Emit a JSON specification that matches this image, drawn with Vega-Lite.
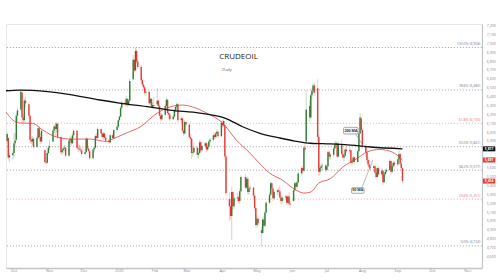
{
"$schema": "https://vega.github.io/schema/vega-lite/v6.json",
"width": 476, "height": 244,
"autosize": {"type": "none"},
"padding": {"left": 6, "top": 24, "right": 18, "bottom": 12},
"background": "white",
"config": {"view": {"stroke": "#e8e8e8"}, "font": "Open Sans"},
"datasets": {
"candles": [
{"d":"2024-09-25","o":5905,"h":6005,"l":5880,"c":5985},
{"d":"2024-09-26","o":5940,"h":5950,"l":5700,"c":5720},
{"d":"2024-09-27","o":5720,"h":5775,"l":5668,"c":5745},
{"d":"2024-09-30","o":5745,"h":5800,"l":5690,"c":5770},
{"d":"2024-10-01","o":5770,"h":6000,"l":5720,"c":5880},
{"d":"2024-10-02","o":5880,"h":5990,"l":5840,"c":5910},
{"d":"2024-10-03","o":5920,"h":6220,"l":5900,"c":6190},
{"d":"2024-10-04","o":6190,"h":6280,"l":6120,"c":6250},
{"d":"2024-10-07","o":6260,"h":6485,"l":6240,"c":6460},
{"d":"2024-10-08","o":6450,"h":6460,"l":6120,"c":6170},
{"d":"2024-10-09","o":6170,"h":6210,"l":6080,"c":6140},
{"d":"2024-10-10","o":6140,"h":6390,"l":6120,"c":6360},
{"d":"2024-10-11","o":6360,"h":6400,"l":6280,"c":6330},
{"d":"2024-10-14","o":6320,"h":6340,"l":6150,"c":6190},
{"d":"2024-10-15","o":6190,"h":6200,"l":5880,"c":5920},
{"d":"2024-10-16","o":5920,"h":5960,"l":5870,"c":5900},
{"d":"2024-10-17","o":5900,"h":5960,"l":5860,"c":5930},
{"d":"2024-10-18","o":5930,"h":5950,"l":5820,"c":5840},
{"d":"2024-10-21","o":5840,"h":5960,"l":5830,"c":5940},
{"d":"2024-10-22","o":5940,"h":6080,"l":5920,"c":6050},
{"d":"2024-10-23","o":6050,"h":6070,"l":5930,"c":5950},
{"d":"2024-10-24","o":5950,"h":5990,"l":5870,"c":5900},
{"d":"2024-10-25","o":5900,"h":6040,"l":5880,"c":6020},
{"d":"2024-10-28","o":5800,"h":5820,"l":5650,"c":5670},
{"d":"2024-10-29","o":5670,"h":5720,"l":5640,"c":5660},
{"d":"2024-10-30","o":5660,"h":5790,"l":5650,"c":5770},
{"d":"2024-10-31","o":5770,"h":5860,"l":5750,"c":5830},
{"d":"2024-11-01","o":5830,"h":5920,"l":5800,"c":5850},
{"d":"2024-11-04","o":5900,"h":6040,"l":5890,"c":6020},
{"d":"2024-11-05","o":6020,"h":6090,"l":5990,"c":6070},
{"d":"2024-11-06","o":6070,"h":6110,"l":5950,"c":6040},
{"d":"2024-11-07","o":6040,"h":6120,"l":6000,"c":6100},
{"d":"2024-11-08","o":6100,"h":6110,"l":5930,"c":5950},
{"d":"2024-11-11","o":5950,"h":5960,"l":5760,"c":5780},
{"d":"2024-11-12","o":5780,"h":5830,"l":5740,"c":5800},
{"d":"2024-11-13","o":5800,"h":5850,"l":5770,"c":5820},
{"d":"2024-11-14","o":5820,"h":5860,"l":5790,"c":5830},
{"d":"2024-11-15","o":5830,"h":5840,"l":5720,"c":5740},
{"d":"2024-11-18","o":5740,"h":5930,"l":5730,"c":5910},
{"d":"2024-11-19","o":5910,"h":5960,"l":5860,"c":5930},
{"d":"2024-11-20","o":5930,"h":5950,"l":5850,"c":5880},
{"d":"2024-11-21","o":5880,"h":5990,"l":5870,"c":5970},
{"d":"2024-11-22","o":5970,"h":6040,"l":5940,"c":6020},
{"d":"2024-11-25","o":6020,"h":6030,"l":5810,"c":5830},
{"d":"2024-11-26","o":5830,"h":5870,"l":5780,"c":5820},
{"d":"2024-11-27","o":5820,"h":5860,"l":5790,"c":5810},
{"d":"2024-11-28","o":5810,"h":5850,"l":5780,"c":5800},
{"d":"2024-11-29","o":5800,"h":5830,"l":5730,"c":5760},
{"d":"2024-12-02","o":5760,"h":5820,"l":5740,"c":5780},
{"d":"2024-12-03","o":5780,"h":5950,"l":5770,"c":5930},
{"d":"2024-12-04","o":5930,"h":5940,"l":5800,"c":5820},
{"d":"2024-12-05","o":5820,"h":5840,"l":5770,"c":5790},
{"d":"2024-12-06","o":5790,"h":5800,"l":5690,"c":5710},
{"d":"2024-12-09","o":5710,"h":5830,"l":5700,"c":5810},
{"d":"2024-12-10","o":5810,"h":5850,"l":5780,"c":5830},
{"d":"2024-12-11","o":5830,"h":5980,"l":5820,"c":5960},
{"d":"2024-12-12","o":5960,"h":5990,"l":5920,"c":5940},
{"d":"2024-12-13","o":5940,"h":6060,"l":5930,"c":6040},
{"d":"2024-12-16","o":6040,"h":6050,"l":5980,"c":5990},
{"d":"2024-12-17","o":5990,"h":6000,"l":5930,"c":5950},
{"d":"2024-12-18","o":5950,"h":6010,"l":5920,"c":5990},
{"d":"2024-12-19","o":5990,"h":6000,"l":5920,"c":5940},
{"d":"2024-12-20","o":5940,"h":5960,"l":5880,"c":5910},
{"d":"2024-12-23","o":5910,"h":5930,"l":5870,"c":5890},
{"d":"2024-12-24","o":5890,"h":5980,"l":5880,"c":5970},
{"d":"2024-12-26","o":5970,"h":5990,"l":5920,"c":5940},
{"d":"2024-12-27","o":5940,"h":6040,"l":5930,"c":6030},
{"d":"2024-12-30","o":6030,"h":6090,"l":6010,"c":6070},
{"d":"2024-12-31","o":6070,"h":6150,"l":6050,"c":6140},
{"d":"2025-01-01","o":6140,"h":6190,"l":6120,"c":6180},
{"d":"2025-01-02","o":6180,"h":6300,"l":6170,"c":6280},
{"d":"2025-01-03","o":6280,"h":6360,"l":6260,"c":6340},
{"d":"2025-01-06","o":6340,"h":6380,"l":6290,"c":6320},
{"d":"2025-01-07","o":6320,"h":6410,"l":6300,"c":6380},
{"d":"2025-01-08","o":6380,"h":6390,"l":6290,"c":6310},
{"d":"2025-01-09","o":6310,"h":6380,"l":6300,"c":6360},
{"d":"2025-01-10","o":6360,"h":6600,"l":6350,"c":6580},
{"d":"2025-01-13","o":6600,"h":6870,"l":6590,"c":6820},
{"d":"2025-01-14","o":6820,"h":6830,"l":6680,"c":6700},
{"d":"2025-01-15","o":6700,"h":6958,"l":6690,"c":6920},
{"d":"2025-01-16","o":6920,"h":6940,"l":6780,"c":6800},
{"d":"2025-01-17","o":6800,"h":6830,"l":6720,"c":6740},
{"d":"2025-01-20","o":6740,"h":6760,"l":6560,"c":6590},
{"d":"2025-01-21","o":6590,"h":6610,"l":6520,"c":6540},
{"d":"2025-01-22","o":6540,"h":6560,"l":6490,"c":6510},
{"d":"2025-01-23","o":6510,"h":6530,"l":6420,"c":6450},
{"d":"2025-01-24","o":6450,"h":6490,"l":6410,"c":6460},
{"d":"2025-01-27","o":6460,"h":6470,"l":6310,"c":6330},
{"d":"2025-01-28","o":6330,"h":6400,"l":6310,"c":6380},
{"d":"2025-01-29","o":6380,"h":6390,"l":6280,"c":6290},
{"d":"2025-01-30","o":6290,"h":6340,"l":6270,"c":6310},
{"d":"2025-01-31","o":6310,"h":6400,"l":6290,"c":6300},
{"d":"2025-02-03","o":6320,"h":6500,"l":6300,"c":6360},
{"d":"2025-02-04","o":6360,"h":6370,"l":6260,"c":6300},
{"d":"2025-02-05","o":6300,"h":6320,"l":6160,"c":6190},
{"d":"2025-02-06","o":6190,"h":6220,"l":6130,"c":6150},
{"d":"2025-02-07","o":6150,"h":6220,"l":6140,"c":6200},
{"d":"2025-02-10","o":6200,"h":6320,"l":6190,"c":6300},
{"d":"2025-02-11","o":6300,"h":6400,"l":6280,"c":6370},
{"d":"2025-02-12","o":6370,"h":6380,"l":6200,"c":6220},
{"d":"2025-02-13","o":6220,"h":6260,"l":6150,"c":6200},
{"d":"2025-02-14","o":6200,"h":6220,"l":6130,"c":6150},
{"d":"2025-02-17","o":6150,"h":6200,"l":6140,"c":6180},
{"d":"2025-02-18","o":6180,"h":6270,"l":6170,"c":6250},
{"d":"2025-02-19","o":6250,"h":6310,"l":6230,"c":6290},
{"d":"2025-02-20","o":6290,"h":6340,"l":6260,"c":6320},
{"d":"2025-02-21","o":6320,"h":6330,"l":6120,"c":6140},
{"d":"2025-02-24","o":6140,"h":6190,"l":6110,"c":6160},
{"d":"2025-02-25","o":6160,"h":6170,"l":6000,"c":6020},
{"d":"2025-02-26","o":6020,"h":6040,"l":5960,"c":5990},
{"d":"2025-02-27","o":5990,"h":6140,"l":5980,"c":6120},
{"d":"2025-02-28","o":6120,"h":6130,"l":6060,"c":6090},
{"d":"2025-03-03","o":6090,"h":6100,"l":5930,"c":5950},
{"d":"2025-03-04","o":5950,"h":5980,"l":5840,"c":5930},
{"d":"2025-03-05","o":5930,"h":5940,"l":5700,"c":5770},
{"d":"2025-03-06","o":5770,"h":5840,"l":5730,"c":5780},
{"d":"2025-03-07","o":5780,"h":5880,"l":5760,"c":5830},
{"d":"2025-03-10","o":5830,"h":5850,"l":5720,"c":5750},
{"d":"2025-03-11","o":5750,"h":5820,"l":5710,"c":5770},
{"d":"2025-03-12","o":5770,"h":5920,"l":5760,"c":5890},
{"d":"2025-03-13","o":5890,"h":5900,"l":5780,"c":5800},
{"d":"2025-03-14","o":5800,"h":5860,"l":5780,"c":5850},
{"d":"2025-03-17","o":5850,"h":5900,"l":5830,"c":5880},
{"d":"2025-03-18","o":5880,"h":5890,"l":5780,"c":5810},
{"d":"2025-03-19","o":5810,"h":5860,"l":5790,"c":5840},
{"d":"2025-03-20","o":5840,"h":5920,"l":5830,"c":5900},
{"d":"2025-03-21","o":5900,"h":5940,"l":5870,"c":5920},
{"d":"2025-03-24","o":5920,"h":5990,"l":5900,"c":5970},
{"d":"2025-03-25","o":5970,"h":6000,"l":5930,"c":5950},
{"d":"2025-03-26","o":5950,"h":6010,"l":5930,"c":5990},
{"d":"2025-03-27","o":5990,"h":6040,"l":5970,"c":6010},
{"d":"2025-03-28","o":6010,"h":6020,"l":5940,"c":5960},
{"d":"2025-03-31","o":5960,"h":6130,"l":5950,"c":6110},
{"d":"2025-04-01","o":6110,"h":6140,"l":6060,"c":6080},
{"d":"2025-04-02","o":6080,"h":6150,"l":6060,"c":6130},
{"d":"2025-04-03","o":6080,"h":6090,"l":5700,"c":5730},
{"d":"2025-04-04","o":5730,"h":5740,"l":5290,"c":5320},
{"d":"2025-04-07","o":5250,"h":5330,"l":5000,"c":5170},
{"d":"2025-04-08","o":5170,"h":5260,"l":5020,"c":5060},
{"d":"2025-04-09","o":5060,"h":5390,"l":4790,"c":5330},
{"d":"2025-04-10","o":5330,"h":5340,"l":5130,"c":5170},
{"d":"2025-04-11","o":5170,"h":5290,"l":5140,"c":5260},
{"d":"2025-04-14","o":5260,"h":5320,"l":5220,"c":5270},
{"d":"2025-04-15","o":5270,"h":5300,"l":5200,"c":5230},
{"d":"2025-04-16","o":5230,"h":5370,"l":5200,"c":5340},
{"d":"2025-04-17","o":5340,"h":5520,"l":5330,"c":5500},
{"d":"2025-04-21","o":5500,"h":5530,"l":5360,"c":5380},
{"d":"2025-04-22","o":5380,"h":5500,"l":5370,"c":5480},
{"d":"2025-04-23","o":5480,"h":5510,"l":5300,"c":5330},
{"d":"2025-04-24","o":5330,"h":5400,"l":5300,"c":5370},
{"d":"2025-04-25","o":5370,"h":5410,"l":5330,"c":5380},
{"d":"2025-04-28","o":5380,"h":5390,"l":5260,"c":5290},
{"d":"2025-04-29","o":5290,"h":5300,"l":5120,"c":5150},
{"d":"2025-04-30","o":5150,"h":5160,"l":4930,"c":4960},
{"d":"2025-05-01","o":4960,"h":5060,"l":4930,"c":5030},
{"d":"2025-05-02","o":5030,"h":5070,"l":4950,"c":4980},
{"d":"2025-05-05","o":4900,"h":4940,"l":4720,"c":4870},
{"d":"2025-05-06","o":4870,"h":5040,"l":4860,"c":5020},
{"d":"2025-05-07","o":5020,"h":5060,"l":4930,"c":4950},
{"d":"2025-05-08","o":4950,"h":5120,"l":4940,"c":5100},
{"d":"2025-05-09","o":5100,"h":5230,"l":5090,"c":5210},
{"d":"2025-05-12","o":5210,"h":5330,"l":5200,"c":5300},
{"d":"2025-05-13","o":5300,"h":5450,"l":5290,"c":5430},
{"d":"2025-05-14","o":5430,"h":5440,"l":5330,"c":5370},
{"d":"2025-05-15","o":5370,"h":5380,"l":5230,"c":5260},
{"d":"2025-05-16","o":5260,"h":5350,"l":5250,"c":5330},
{"d":"2025-05-19","o":5330,"h":5370,"l":5290,"c":5350},
{"d":"2025-05-20","o":5350,"h":5380,"l":5300,"c":5340},
{"d":"2025-05-21","o":5340,"h":5400,"l":5250,"c":5270},
{"d":"2025-05-22","o":5270,"h":5300,"l":5190,"c":5230},
{"d":"2025-05-23","o":5230,"h":5290,"l":5200,"c":5270},
{"d":"2025-05-26","o":5270,"h":5300,"l":5240,"c":5280},
{"d":"2025-05-27","o":5280,"h":5290,"l":5190,"c":5210},
{"d":"2025-05-28","o":5210,"h":5300,"l":5200,"c":5280},
{"d":"2025-05-29","o":5280,"h":5330,"l":5180,"c":5200},
{"d":"2025-05-30","o":5200,"h":5230,"l":5150,"c":5190},
{"d":"2025-06-02","o":5230,"h":5370,"l":5220,"c":5350},
{"d":"2025-06-03","o":5350,"h":5450,"l":5340,"c":5430},
{"d":"2025-06-04","o":5430,"h":5440,"l":5360,"c":5390},
{"d":"2025-06-05","o":5390,"h":5460,"l":5370,"c":5440},
{"d":"2025-06-06","o":5440,"h":5560,"l":5430,"c":5540},
{"d":"2025-06-09","o":5540,"h":5620,"l":5520,"c":5600},
{"d":"2025-06-10","o":5600,"h":5620,"l":5540,"c":5570},
{"d":"2025-06-11","o":5570,"h":5850,"l":5560,"c":5830},
{"d":"2025-06-12","o":5830,"h":5880,"l":5780,"c":5810},
{"d":"2025-06-13","o":5900,"h":6480,"l":5880,"c":6260},
{"d":"2025-06-16","o":6300,"h":6360,"l":6120,"c":6170},
{"d":"2025-06-17","o":6170,"h":6440,"l":6150,"c":6420},
{"d":"2025-06-18","o":6420,"h":6500,"l":6370,"c":6470},
{"d":"2025-06-19","o":6470,"h":6560,"l":6440,"c":6530},
{"d":"2025-06-20","o":6530,"h":6560,"l":6410,"c":6450},
{"d":"2025-06-23","o":6500,"h":6600,"l":5900,"c":5950},
{"d":"2025-06-24","o":5950,"h":5970,"l":5510,"c":5560},
{"d":"2025-06-25","o":5560,"h":5640,"l":5520,"c":5600},
{"d":"2025-06-26","o":5600,"h":5650,"l":5570,"c":5620},
{"d":"2025-06-27","o":5620,"h":5660,"l":5580,"c":5630},
{"d":"2025-06-30","o":5630,"h":5650,"l":5560,"c":5580},
{"d":"2025-07-01","o":5580,"h":5640,"l":5560,"c":5620},
{"d":"2025-07-02","o":5620,"h":5800,"l":5610,"c":5780},
{"d":"2025-07-03","o":5780,"h":5800,"l":5700,"c":5730},
{"d":"2025-07-04","o":5730,"h":5770,"l":5690,"c":5750},
{"d":"2025-07-07","o":5750,"h":5850,"l":5720,"c":5820},
{"d":"2025-07-08","o":5820,"h":5900,"l":5800,"c":5860},
{"d":"2025-07-09","o":5860,"h":5910,"l":5830,"c":5880},
{"d":"2025-07-10","o":5880,"h":5890,"l":5710,"c":5730},
{"d":"2025-07-11","o":5730,"h":5900,"l":5720,"c":5870},
{"d":"2025-07-14","o":5870,"h":5920,"l":5740,"c":5760},
{"d":"2025-07-15","o":5760,"h":5800,"l":5700,"c":5720},
{"d":"2025-07-16","o":5720,"h":5770,"l":5680,"c":5740},
{"d":"2025-07-17","o":5740,"h":5830,"l":5730,"c":5810},
{"d":"2025-07-18","o":5810,"h":5850,"l":5770,"c":5790},
{"d":"2025-07-21","o":5790,"h":5830,"l":5760,"c":5800},
{"d":"2025-07-22","o":5800,"h":5810,"l":5640,"c":5660},
{"d":"2025-07-23","o":5660,"h":5700,"l":5630,"c":5670},
{"d":"2025-07-24","o":5670,"h":5740,"l":5650,"c":5720},
{"d":"2025-07-25","o":5720,"h":5730,"l":5640,"c":5670},
{"d":"2025-07-28","o":5670,"h":5810,"l":5660,"c":5790},
{"d":"2025-07-29","o":5790,"h":6010,"l":5780,"c":5990},
{"d":"2025-07-30","o":5990,"h":6220,"l":5980,"c":6170},
{"d":"2025-07-31","o":6160,"h":6180,"l":6000,"c":6030},
{"d":"2025-08-01","o":6030,"h":6050,"l":5820,"c":5850},
{"d":"2025-08-04","o":5850,"h":5870,"l":5730,"c":5780},
{"d":"2025-08-05","o":5780,"h":5800,"l":5660,"c":5690},
{"d":"2025-08-06","o":5690,"h":5730,"l":5620,"c":5640},
{"d":"2025-08-07","o":5640,"h":5700,"l":5590,"c":5610},
{"d":"2025-08-08","o":5610,"h":5640,"l":5570,"c":5600},
{"d":"2025-08-11","o":5600,"h":5640,"l":5570,"c":5620},
{"d":"2025-08-12","o":5620,"h":5630,"l":5530,"c":5550},
{"d":"2025-08-13","o":5550,"h":5570,"l":5480,"c":5500},
{"d":"2025-08-14","o":5500,"h":5620,"l":5490,"c":5600},
{"d":"2025-08-15","o":5600,"h":5610,"l":5510,"c":5530},
{"d":"2025-08-18","o":5530,"h":5600,"l":5510,"c":5570},
{"d":"2025-08-19","o":5570,"h":5580,"l":5410,"c":5440},
{"d":"2025-08-20","o":5440,"h":5550,"l":5430,"c":5530},
{"d":"2025-08-21","o":5530,"h":5590,"l":5510,"c":5560},
{"d":"2025-08-22","o":5560,"h":5600,"l":5540,"c":5580},
{"d":"2025-08-25","o":5580,"h":5700,"l":5570,"c":5680},
{"d":"2025-08-26","o":5680,"h":5690,"l":5530,"c":5560},
{"d":"2025-08-27","o":5560,"h":5640,"l":5540,"c":5620},
{"d":"2025-08-28","o":5620,"h":5680,"l":5600,"c":5660},
{"d":"2025-08-29","o":5660,"h":5680,"l":5610,"c":5640},
{"d":"2025-09-01","o":5640,"h":5720,"l":5620,"c":5700},
{"d":"2025-09-02","o":5700,"h":5800,"l":5690,"c":5760},
{"d":"2025-09-03","o":5760,"h":5770,"l":5620,"c":5650},
{"d":"2025-09-04","o":5650,"h":5680,"l":5570,"c":5600},
{"d":"2025-09-05","o":5600,"h":5610,"l":5430,"c":5454}
],
"ma200": [
{"d":"2024-09-24","v":6471},{"d":"2024-10-06","v":6479},{"d":"2024-10-17","v":6475},{"d":"2024-11-16","v":6434},
{"d":"2024-12-15","v":6367},{"d":"2025-01-01","v":6333},{"d":"2025-01-28","v":6288},{"d":"2025-02-14","v":6254},
{"d":"2025-03-12","v":6220},{"d":"2025-04-03","v":6164},{"d":"2025-04-19","v":6063},{"d":"2025-05-03","v":5995},
{"d":"2025-05-21","v":5939},{"d":"2025-06-03","v":5905},{"d":"2025-06-17","v":5880},{"d":"2025-07-04","v":5872},
{"d":"2025-07-22","v":5858},{"d":"2025-08-08","v":5838},{"d":"2025-09-05","v":5817}
],
"ma50": [
{"d":"2024-09-24","v":6232},{"d":"2024-09-30","v":6141},{"d":"2024-10-06","v":6108},{"d":"2024-10-17","v":6105},
{"d":"2024-10-26","v":6029},{"d":"2024-11-07","v":5950},{"d":"2024-11-21","v":5927},{"d":"2024-12-06","v":5927},
{"d":"2024-12-21","v":5900},{"d":"2024-12-26","v":5927},{"d":"2025-01-07","v":5995},{"d":"2025-01-19","v":6063},
{"d":"2025-02-03","v":6220},{"d":"2025-02-14","v":6288},{"d":"2025-02-25","v":6310},{"d":"2025-03-06","v":6288},
{"d":"2025-03-18","v":6220},{"d":"2025-04-01","v":6108},{"d":"2025-04-13","v":5916},{"d":"2025-04-24","v":5781},
{"d":"2025-05-03","v":5657},{"d":"2025-05-12","v":5545},{"d":"2025-05-23","v":5466},{"d":"2025-06-04","v":5353},
{"d":"2025-06-11","v":5319},{"d":"2025-06-17","v":5331},{"d":"2025-06-24","v":5432},{"d":"2025-07-04","v":5480},
{"d":"2025-07-15","v":5612},{"d":"2025-07-28","v":5714},{"d":"2025-08-05","v":5781},{"d":"2025-08-16","v":5810},
{"d":"2025-08-27","v":5781},{"d":"2025-09-05","v":5691}
],
"fib": [
{"v":6958,"t":"100.0% (6,958)","k":"g"},
{"v":6480,"t":"78.6% (6,480)","k":"g"},
{"v":6105,"t":"61.8% (6,105)","k":"r"},
{"v":5841,"t":"50.0% (5,841)","k":"g"},
{"v":5577,"t":"38.2% (5,577)","k":"g"},
{"v":5251,"t":"23.6% (5,251)","k":"r"},
{"v":4724,"t":"0.0% (4,724)","k":"g"}
],
"tags": [
{"v":5817,"t":"5,817","k":"ma200"},
{"v":5691,"t":"5,691","k":"ma50"},
{"v":5454,"t":"5,454","k":"last"}
],
"months": [
{"d":"2024-10-01","t":"Oct"},{"d":"2024-11-01","t":"Nov"},{"d":"2024-12-01","t":"Dec"},{"d":"2025-01-01","t":"2025"},
{"d":"2025-02-01","t":"Feb"},{"d":"2025-03-01","t":"Mar"},{"d":"2025-04-01","t":"Apr"},{"d":"2025-05-01","t":"May"},
{"d":"2025-06-01","t":"Jun"},{"d":"2025-07-01","t":"Jul"},{"d":"2025-08-01","t":"Aug"},{"d":"2025-09-01","t":"Sep"},
{"d":"2025-10-01","t":"Oct"},{"d":"2025-11-01","t":"Nov"}
],
"prices": [
{"v":4600},{"v":4700},{"v":4800},{"v":4900},{"v":5000},{"v":5100},{"v":5200},{"v":5300},{"v":5400},
{"v":5500},{"v":5600},{"v":5700},{"v":5800},{"v":5900},{"v":6000},{"v":6100},{"v":6200},{"v":6300},
{"v":6400},{"v":6500},{"v":6600},{"v":6700},{"v":6800},{"v":6900},{"v":7000},{"v":7100},{"v":7200}
]
},
"layer": [
{
"data": {"name": "fib"},
"mark": {"type": "rule", "strokeDash": [1.2, 1.8], "strokeWidth": 0.8},
"encoding": {
"y": {"field": "v", "type": "quantitative", "scale": {"domain": [4475, 7223], "nice": false, "zero": false},
 "axis": {"orient": "right", "title": null, "labels": false, "ticks": false, "grid": false, "domainColor": "#c4c4c4", "domainWidth": 1.2}},
"color": {"field": "k", "type": "nominal", "scale": {"domain": ["g", "r"], "range": ["#9a9a9a", "#e8a3a3"]}, "legend": null}
}
},
{
"data": {"name": "fib"},
"mark": {"type": "text", "align": "right", "baseline": "middle", "dy": -3.5, "fontSize": 3.5},
"encoding": {
"x": {"datum": {"year": 2025, "month": 11, "date": 12, "utc": true}, "type": "temporal"},
"y": {"field": "v", "type": "quantitative"},
"text": {"field": "t"},
"color": {"field": "k", "type": "nominal", "scale": {"domain": ["g", "r"], "range": ["#7a7a7a", "#e07070"]}, "legend": null}
}
},
{
"data": {"values": [{}]},
"mark": {"type": "text", "text": "CRUDEOIL", "fontSize": 8, "color": "#222", "align": "center", "baseline": "middle"},
"encoding": {
"x": {"datum": {"year": 2025, "month": 4, "date": 15, "utc": true}, "type": "temporal"},
"y": {"datum": 6851}
}
},
{
"data": {"values": [{}]},
"mark": {"type": "text", "text": "Daily", "fontSize": 4.2, "color": "#555", "align": "center", "baseline": "middle"},
"encoding": {
"x": {"datum": {"year": 2025, "month": 4, "date": 5, "utc": true}, "type": "temporal"},
"y": {"datum": 6705}
}
},
{
"data": {"name": "candles"},
"mark": {"type": "rule", "strokeWidth": 0.6, "opacity": 0.45},
"encoding": {
"x": {"field": "d", "type": "temporal",
 "scale": {"type": "utc", "domain": [{"year": 2024, "month": 9, "date": 24, "utc": true}, {"year": 2025, "month": 11, "date": 13, "hours": 10, "utc": true}]},
 "axis": {"title": null, "grid": false, "ticks": false, "labels": false, "domainColor": "#c4c4c4", "domainWidth": 1.5}},
"y": {"field": "l", "type": "quantitative"},
"y2": {"field": "h"},
"color": {"condition": {"test": "datum.c >= datum.o", "value": "#2e7d32"}, "value": "#e53935"}
}
},
{
"data": {"name": "candles"},
"mark": {"type": "rule", "strokeWidth": 1.4},
"encoding": {
"x": {"field": "d", "type": "temporal"},
"y": {"field": "o", "type": "quantitative"},
"y2": {"field": "c"},
"color": {"condition": {"test": "datum.c >= datum.o", "value": "#2e7d32"}, "value": "#e53935"}
}
},
{
"data": {"name": "ma50"},
"mark": {"type": "line", "color": "#d9443c", "strokeWidth": 0.8, "interpolate": "monotone"},
"encoding": {"x": {"field": "d", "type": "temporal"}, "y": {"field": "v", "type": "quantitative"}}
},
{
"data": {"name": "ma200"},
"mark": {"type": "line", "color": "#111111", "strokeWidth": 1.3, "interpolate": "monotone"},
"encoding": {"x": {"field": "d", "type": "temporal"}, "y": {"field": "v", "type": "quantitative"}}
},
{
"data": {"values": [{}]},
"mark": {"type": "rule", "color": "#888", "strokeWidth": 0.6},
"encoding": {
"x": {"datum": {"year": 2025, "month": 7, "date": 26, "hours": 7, "utc": true}, "type": "temporal"},
"x2": {"datum": {"year": 2025, "month": 8, "date": 2, "hours": 7, "utc": true}},
"y": {"datum": 5984}, "y2": {"datum": 5838}
}
},
{
"data": {"values": [{}]},
"mark": {"type": "rule", "color": "#888", "strokeWidth": 0.6},
"encoding": {
"x": {"datum": {"year": 2025, "month": 7, "date": 31, "hours": 14, "utc": true}, "type": "temporal"},
"x2": {"datum": {"year": 2025, "month": 8, "date": 10, "hours": 5, "utc": true}},
"y": {"datum": 5379}, "y2": {"datum": 5691}
}
},
{
"data": {"values": [{}]},
"mark": {"type": "rect", "fill": "#f7f7f7", "stroke": "#777", "strokeWidth": 0.6, "cornerRadius": 1},
"encoding": {
"x": {"datum": {"year": 2025, "month": 7, "date": 15, "hours": 14, "utc": true}, "type": "temporal"},
"x2": {"datum": {"year": 2025, "month": 7, "date": 28, "hours": 7, "utc": true}},
"y": {"datum": 6059}, "y2": {"datum": 5984}
}
},
{
"data": {"values": [{}]},
"mark": {"type": "rect", "fill": "#f7f7f7", "stroke": "#777", "strokeWidth": 0.6, "cornerRadius": 1},
"encoding": {
"x": {"datum": {"year": 2025, "month": 7, "date": 22, "hours": 14, "utc": true}, "type": "temporal"},
"x2": {"datum": {"year": 2025, "month": 8, "date": 2, "hours": 14, "utc": true}},
"y": {"datum": 5379}, "y2": {"datum": 5316}
}
},
{
"data": {"values": [{}]},
"mark": {"type": "text", "text": "200 MA", "fontSize": 3.6, "fontWeight": "bold", "color": "#333", "align": "center", "baseline": "middle"},
"encoding": {
"x": {"datum": {"year": 2025, "month": 7, "date": 22, "utc": true}, "type": "temporal"},
"y": {"datum": 6021}
}
},
{
"data": {"values": [{}]},
"mark": {"type": "text", "text": "50 MA", "fontSize": 3.6, "fontWeight": "bold", "color": "#333", "align": "center", "baseline": "middle"},
"encoding": {
"x": {"datum": {"year": 2025, "month": 7, "date": 28, "utc": true}, "type": "temporal"},
"y": {"datum": 5348}
}
},
{
"data": {"name": "months"},
"mark": {"type": "text", "fontSize": 3.8, "color": "#8a8a8a", "align": "center", "baseline": "top", "dy": 1.2},
"encoding": {
"x": {"field": "d", "type": "temporal"},
"y": {"datum": 4475},
"text": {"field": "t"}
}
},
{
"data": {"name": "prices"},
"mark": {"type": "text", "fontSize": 3.6, "color": "#8a8a8a", "align": "left", "baseline": "middle"},
"encoding": {
"x": {"datum": {"year": 2025, "month": 11, "date": 17, "hours": 12, "utc": true}, "type": "temporal"},
"y": {"field": "v", "type": "quantitative"},
"text": {"field": "v", "format": ","}
}
},
{
"data": {"name": "tags"},
"mark": {"type": "rule", "strokeWidth": 5},
"encoding": {
"x": {"datum": {"year": 2025, "month": 11, "date": 14, "hours": 6, "utc": true}, "type": "temporal"},
"x2": {"datum": {"year": 2025, "month": 11, "date": 25, "utc": true}},
"y": {"field": "v", "type": "quantitative"},
"color": {"field": "k", "type": "nominal", "scale": {"domain": ["ma200", "ma50", "last"], "range": ["#111111", "#e53935", "#e53935"]}, "legend": null}
}
},
{
"data": {"name": "tags"},
"mark": {"type": "text", "fontSize": 3.4, "fontWeight": "bold", "color": "white", "align": "center", "baseline": "middle"},
"encoding": {
"x": {"datum": {"year": 2025, "month": 11, "date": 19, "hours": 15, "utc": true}, "type": "temporal"},
"y": {"field": "v", "type": "quantitative"},
"text": {"field": "t"}
}
}
],
"resolve": {"scale": {"color": "independent"}}
}
